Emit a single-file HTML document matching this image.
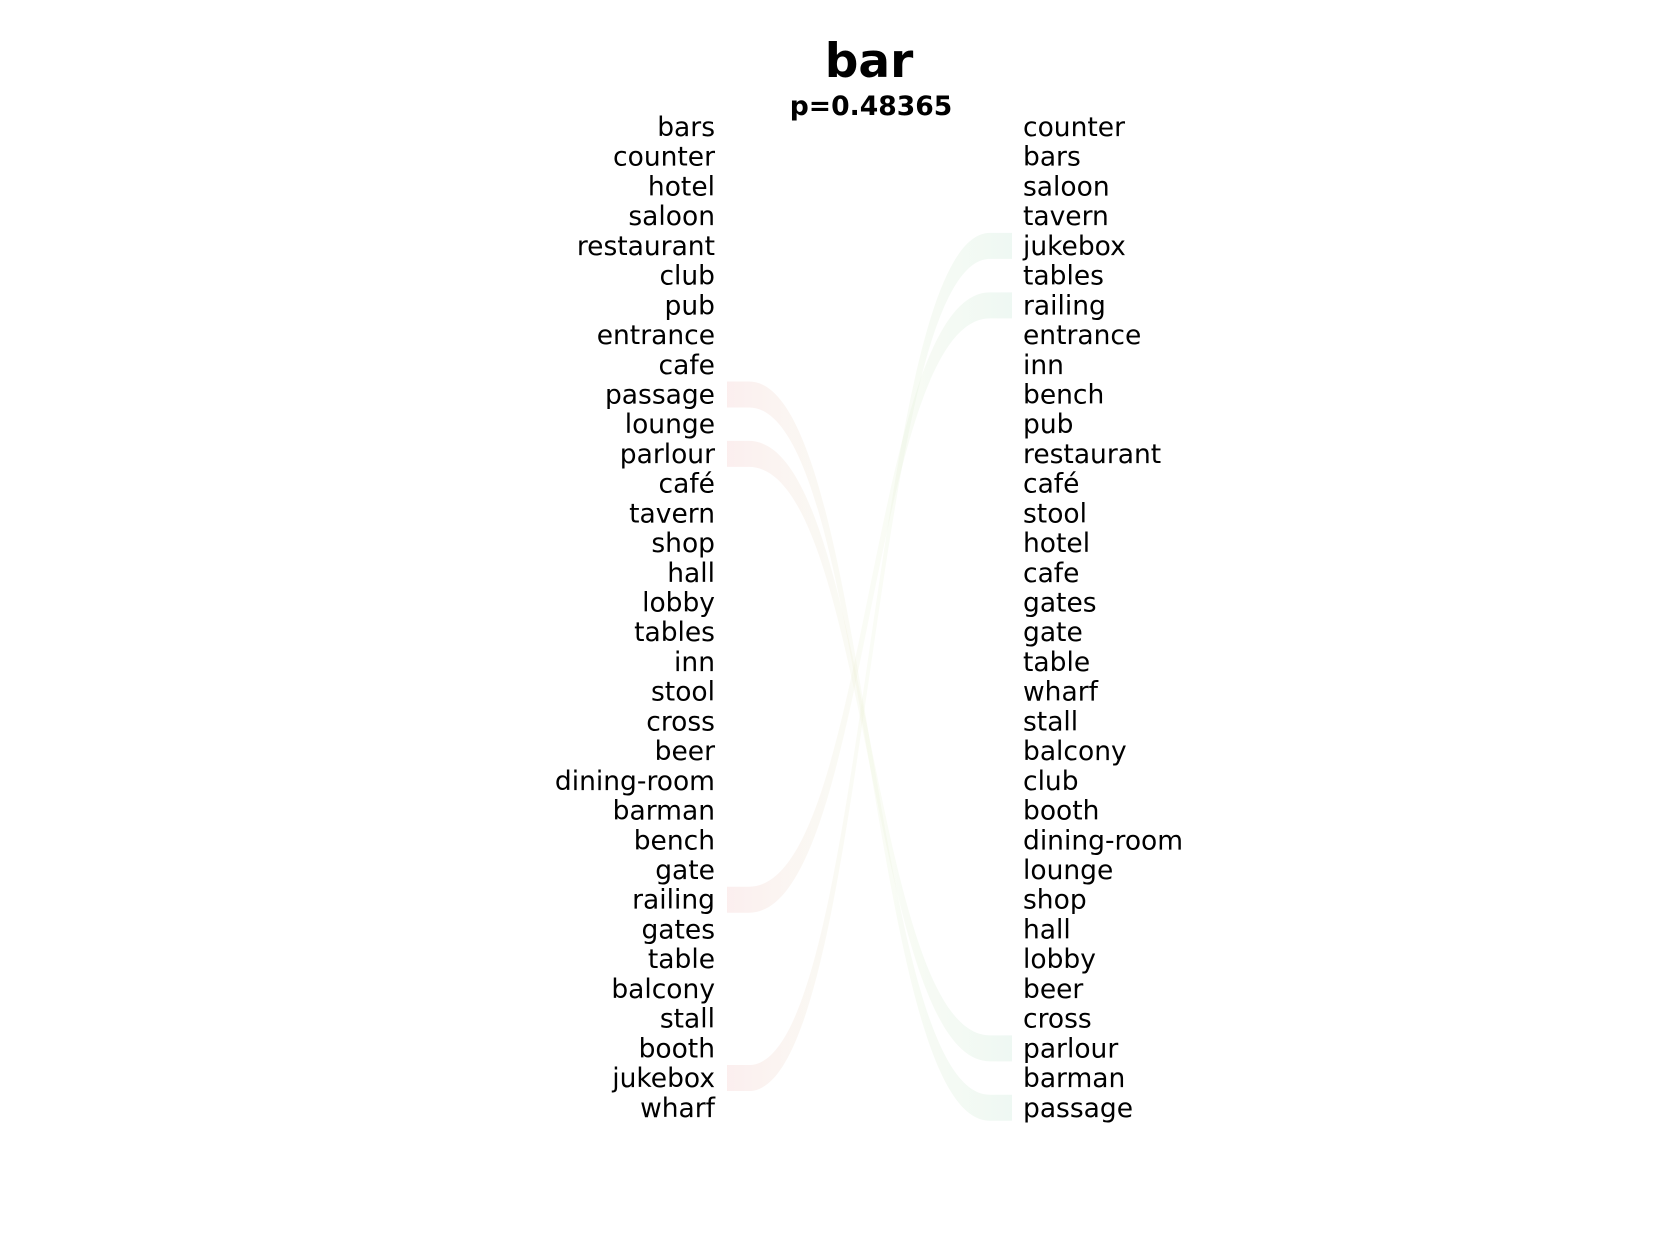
<!DOCTYPE html>
<html><head><meta charset="utf-8"><style>
body{margin:0;background:#fff}
svg{display:block}
text{font-family:"DejaVu Sans","Liberation Sans",sans-serif;fill:#000}
</style></head><body>
<svg width="1680" height="1260" viewBox="0 0 1680 1260">
<defs>
<linearGradient id="rg" x1="0" x2="1" y1="0" y2="0">
<stop offset="0" stop-color="#f3c8c8" stop-opacity="0.3"/>
<stop offset="0.5" stop-color="#e8f0d0" stop-opacity="0.2"/>
<stop offset="1" stop-color="#c8e8d6" stop-opacity="0.3"/>
</linearGradient>
</defs>
<text x="869" y="77" font-size="47" font-weight="bold" text-anchor="middle">bar</text>
<text x="871" y="115" font-size="26.6" font-weight="bold" text-anchor="middle">p=0.48365</text>
<g id="links"></g>
<g id="left"></g>
<g id="right"></g>
</svg>
<script>
const leftWords=["bars","counter","hotel","saloon","restaurant","club","pub","entrance","cafe","passage","lounge","parlour","café","tavern","shop","hall","lobby","tables","inn","stool","cross","beer","dining-room","barman","bench","gate","railing","gates","table","balcony","stall","booth","jukebox","wharf"];
const rightWords=["counter","bars","saloon","tavern","jukebox","tables","railing","entrance","inn","bench","pub","restaurant","café","stool","hotel","cafe","gates","gate","table","wharf","stall","balcony","club","booth","dining-room","lounge","shop","hall","lobby","beer","cross","parlour","barman","passage"];
const linkedWords=["passage","parlour","railing","jukebox"];
const NS="http://www.w3.org/2000/svg";
const y0=136,dy=29.72,lx=715,rx=1023,bx0=727,bx1=1012,bh=26;
function rowY(i){return y0+i*dy;}
const L=document.getElementById('left'),R=document.getElementById('right'),K=document.getElementById('links');
leftWords.forEach((w,i)=>{const t=document.createElementNS(NS,'text');


t.setAttribute('x',lx);t.setAttribute('y',rowY(i));t.setAttribute('font-size','26.5');t.setAttribute('text-anchor','end');t.textContent=w;L.appendChild(t);});
rightWords.forEach((w,i)=>{const t=document.createElementNS(NS,'text');


t.setAttribute('x',rx);t.setAttribute('y',rowY(i));t.setAttribute('font-size','26.5');t.textContent=w;R.appendChild(t);});
linkedWords.forEach(w=>{const a=rowY(leftWords.indexOf(w))-9,b=rowY(rightWords.indexOf(w))-9,h=bh/2;
const s=bx0+22,e=bx1-22,m=(s+e)/2;
const d=`M${bx0},${a-h} L${s},${a-h} C${m},${a-h} ${m},${b-h} ${e},${b-h} L${bx1},${b-h} L${bx1},${b+h} L${e},${b+h} C${m},${b+h} ${m},${a+h} ${s},${a+h} L${bx0},${a+h} Z`;
const p=document.createElementNS(NS,'path');


p.setAttribute('d',d);p.setAttribute('fill','url(#rg)');K.appendChild(p);});
</script>
</body></html>
